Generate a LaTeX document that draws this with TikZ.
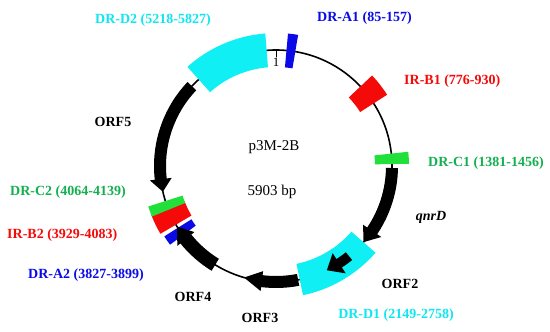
\documentclass[tikz,border=0pt]{standalone}
\usepackage{fontspec}
\setmainfont{Liberation Serif}
\definecolor{drcyan}{HTML}{10F0F4}
\definecolor{drblue}{HTML}{0A0AE6}
\definecolor{irred}{HTML}{F50A0A}
\definecolor{drgreen}{HTML}{22E03A}
\definecolor{txtgreen}{HTML}{14B050}
\definecolor{txtcyan}{HTML}{10E6F0}

% block between two bp positions on the 5903 bp ring
\newcommand{\bpblock}[4]{%
  \pgfmathsetmacro{\blkA}{90-#1/5903*360}
  \pgfmathsetmacro{\blkB}{90-#2/5903*360}
  \pgfmathsetmacro{\rOut}{116+#3}
  \pgfmathsetmacro{\rIn}{116-#3}
  \fill[#4] (\blkA:\rOut) arc[start angle=\blkA, end angle=\blkB, radius=\rOut]
     -- (\blkB:\rIn) arc[start angle=\blkB, end angle=\blkA, radius=\rIn] -- cycle;}
% curved orf arrow: tail, head base, tip (degrees), half body, half head
\newcommand{\orfarrow}[5]{%
  \pgfmathsetmacro{\rOut}{116+#4}
  \pgfmathsetmacro{\rIn}{116-#4}
  \pgfmathsetmacro{\hOut}{116+#5}
  \pgfmathsetmacro{\hIn}{116-#5}
  \fill[black] (#1:\rOut) arc[start angle=#1, end angle=#2, radius=\rOut]
     -- (#2:\hOut) -- (#3:116) -- (#2:\hIn) -- (#2:\rIn)
     arc[start angle=#2, end angle=#1, radius=\rIn] -- cycle;}

\begin{document}
\begin{tikzpicture}[x=1pt,y=1pt,
  lbl/.style={font=\fontsize{14}{16}\selectfont\bfseries,inner sep=0pt},
  mid/.style={font=\fontsize{15}{17}\selectfont,inner sep=0pt}]
  \useasboundingbox (0,0) rectangle (550,332);
  \coordinate (O) at (276,166);
  \begin{scope}[shift={(O)}]
    % backbone
    \draw[line width=1.6pt] (0,0) circle (116);
    \draw[line width=0.6pt] (90:116) -- (90:109) node[below=1pt,mid,font=\fontsize{13}{15}\selectfont] (one) {1};
    % repeats
    \bpblock{5218}{5827}{17}{drcyan}
    \bpblock{2149}{2758}{16}{drcyan}
    \bpblock{85}{157}{17}{drblue}
    \bpblock{3827}{3899}{16}{drblue}
    \bpblock{766}{940}{16}{irred}
    \bpblock{3929}{4083}{18}{irred}
    \bpblock{1375}{1460}{17}{drgreen}
    \bpblock{4064}{4139}{18}{drgreen}
    % orfs
    \orfarrow{-1}{-34}{-41}{6}{11}
    \orfarrow{-51}{-57}{-64}{5}{12}
    \orfarrow{-79}{-97}{-106}{6}{10}
    \orfarrow{-121.6}{-141}{-148.5}{7}{11}
    \orfarrow{136.5}{186.5}{192.8}{6}{11}
  \end{scope}
  \node[mid] (name) at (274,185) {p3M-2B};
  \node[mid] (size) at (272,140) {5903 bp};
  % labels
  \node[lbl,text=txtcyan,anchor=west] (lD2) at (95,312) {DR-D2 (5218-5827)};
  \node[lbl,text=drblue,anchor=west] (lA1) at (317,314) {DR-A1 (85-157)};
  \node[lbl,text=irred,anchor=west] (lB1) at (404,251) {IR-B1 (776-930)};
  \node[lbl,text=txtgreen,anchor=west] (lC1) at (428,169) {DR-C1 (1381-1456)};
  \node[lbl,font=\fontsize{14}{16}\selectfont\bfseries\itshape] (lqnr) at (431,115) {qnrD};
  \node[lbl] (lO2) at (400,48) {ORF2};
  \node[lbl,text=txtcyan] (lD1) at (396,17) {DR-D1 (2149-2758)};
  \node[lbl] (lO3) at (260,14) {ORF3};
  \node[lbl] (lO4) at (193,35) {ORF4};
  \node[lbl,text=drblue,anchor=west] (lA2) at (28,57) {DR-A2 (3827-3899)};
  \node[lbl,text=irred,anchor=west] (lB2) at (7,97) {IR-B2 (3929-4083)};
  \node[lbl,text=txtgreen,anchor=west] (lC2) at (10,140) {DR-C2 (4064-4139)};
  \node[lbl] (lO5) at (113,210) {ORF5};
\end{tikzpicture}
\end{document}
